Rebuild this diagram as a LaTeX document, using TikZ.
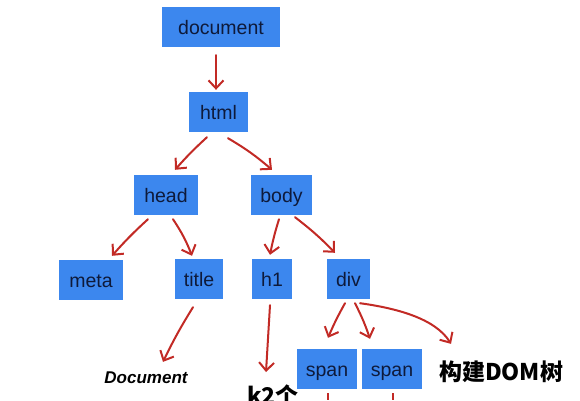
\documentclass[tikz,border=0pt]{standalone}
\usepackage{fontspec}
\setmainfont{Liberation Sans}
\newfontfamily\cjk{Noto Sans CJK SC}
\usetikzlibrary{arrows.meta,calc}
\definecolor{boxblue}{HTML}{3C87EE}
\definecolor{boxtext}{HTML}{0E1A3A}
\definecolor{arrred}{HTML}{C22A25}
\tikzset{
  tbox/.style={fill=boxblue, text=boxtext, inner sep=0pt, text height=15pt, text depth=1pt, font=\fontsize{19.5}{20}\selectfont, anchor=center},
  arr/.style={draw=arrred, line width=2pt, line cap=round, -{Straight Barb[length=8pt,width=15pt,line width=2pt]}},
  hand/.style={font=\cjk\bfseries\fontsize{23}{23}\selectfont, text=black, inner sep=0pt},
}
\begin{document}
\begin{tikzpicture}[x=1pt,y=-1pt]
\useasboundingbox (0,0) rectangle (580,400);
\node[tbox, minimum width=118pt, minimum height=40pt] (doc) at (221,27) {document};
\node[tbox, minimum width=59pt, minimum height=40pt] (html) at (218.5,112) {html};
\node[tbox, minimum width=64pt, minimum height=40pt] (head) at (166,195) {head};
\node[tbox, minimum width=61pt, minimum height=40pt] (body) at (281.5,195) {body};
\node[tbox, minimum width=64pt, minimum height=40pt] (meta) at (91,280) {meta};
\node[tbox, minimum width=48pt, minimum height=40pt] (title) at (199,279) {title};
\node[tbox, minimum width=40pt, minimum height=40pt] (h1) at (272,279) {h1};
\node[tbox, minimum width=43pt, minimum height=40pt] (div) at (348.5,279) {div};
\node[tbox, minimum width=60pt, minimum height=40pt] (span1) at (327,369) {span};
\node[tbox, minimum width=60pt, minimum height=40pt] (span2) at (392,369) {span};
\node[hand, font=\itshape\bfseries\fontsize{17}{17}\selectfont] (dtext) at (146,378) {Document};
\node[hand] (dom) at (501,372) {构建DOM树};
\node[hand, anchor=north] (k2) at (273,385) {k2个};
\coordinate (s1end) at (328,400);
\coordinate (s2end) at (393,400);
\draw[arr] ($(doc.south)+(-5,8)$) -- ($(html.north)+(-2.5,-2)$);
\draw[arr] ($(html.south)+(-11.5,5)$) to[bend right=3] ($(head.north)+(9,-5)$);
\draw[arr] ($(html.south)+(9.5,6)$) to[bend left=5] ($(body.north)+(-9.5,-5)$);
\draw[arr] ($(head.south)+(-18,4)$) to[bend right=3] ($(meta.north)+(21,-4)$);
\draw[arr] ($(head.south)+(7,4)$) to[bend left=6] ($(title.north)+(-7,-3)$);
\draw[arr] ($(body.south)+(-2.5,4)$) to[bend right=3] ($(h1.north)+(-2,-4)$);
\draw[arr] ($(body.south)+(13.5,2)$) to[bend left=4] ($(div.north)+(-13.5,-6)$);
\draw[arr] ($(title.south)+(-6,8)$) to[bend right=3] ($(dtext.north)+(17,-10)$);
\draw[arr] ($(h1.south)+(-2,6)$) -- ($(k2.north)+(-7,-13)$);
\draw[arr] ($(div.south)+(-3.5,4)$) to[bend right=3] ($(span1.north)+(1,-11)$);
\draw[arr] ($(div.south)+(6.5,4)$) to[bend left=4] ($(span2.north)+(-22,-10)$);
\draw[arr] ($(div.south)+(11.5,4)$) .. controls (395,308) and (435,318) .. ($(dom.north)+(-50,-17)$);
\draw[draw=arrred, line width=2pt] ($(span1.south)+(1,4)$) -- (s1end);
\draw[draw=arrred, line width=2pt] ($(span2.south)+(1,4)$) -- (s2end);
\end{tikzpicture}
\end{document}
